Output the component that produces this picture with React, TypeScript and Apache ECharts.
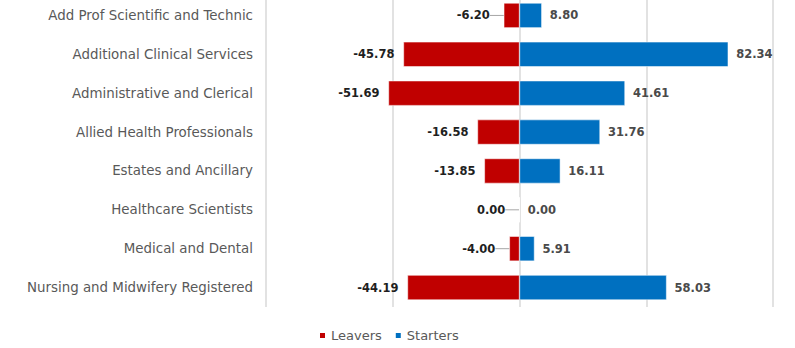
import React, { useEffect, useRef } from "react";
import * as echarts from "echarts";

const categories = [
  "Add Prof Scientific and Technic",
  "Additional Clinical Services",
  "Administrative and Clerical",
  "Allied Health Professionals",
  "Estates and Ancillary",
  "Healthcare Scientists",
  "Medical and Dental",
  "Nursing and Midwifery Registered",
];
const leavers = [-6.2, -45.78, -51.69, -16.58, -13.85, 0.0, -4.0, -44.19];
const starters = [8.8, 82.34, 41.61, 31.76, 16.11, 0.0, 5.91, 58.03];

const FONT = "DejaVu Sans, Verdana, sans-serif";

export default function App() {
  const ref = useRef<HTMLDivElement>(null);
  useEffect(() => {
    if (!ref.current) return;
    const chart = echarts.init(ref.current, undefined, { renderer: "svg" });
    chart.setOption({
      animation: false,
      backgroundColor: "#ffffff",
      textStyle: { fontFamily: FONT },
      grid: { left: 266, right: 22, top: 0, bottom: 41, containLabel: false },
      legend: {
        data: ["Leavers", "Starters"],
        left: 313,
        top: 328,
        icon: "rect",
        itemWidth: 7,
        itemHeight: 7,
        itemGap: 12,
        textStyle: { fontSize: 13, color: "#595959", fontFamily: FONT },
      },
      xAxis: {
        type: "value",
        min: -100,
        max: 100,
        interval: 50,
        axisLabel: { show: false },
        axisLine: { show: false },
        axisTick: { show: false },
        splitLine: { show: true, lineStyle: { color: "#d9d9d9", width: 1.5 } },
      },
      yAxis: {
        type: "category",
        data: categories,
        inverse: true,
        axisLine: { show: false, onZero: false },
        axisTick: { show: false },
        axisLabel: { fontSize: 13.4, color: "#595959", margin: 13, fontFamily: FONT },
      },
      series: [
        {
          name: "Leavers",
          type: "bar",
          stack: "total",
          data: leavers.map((v) => ({
            value: v,
            labelLine: { show: Math.abs(v) < 10 },
          })),
          barWidth: "64%",
          itemStyle: { color: "#C00000", borderColor: "#ffffff", borderWidth: 0.5 },
          label: {
            show: true,
            position: "left",
            distance: 9,
            formatter: (p: any) => Number(p.value).toFixed(2),
            fontSize: 11.5,
            fontWeight: "bold",
            color: "#1f1f1f",
            fontFamily: FONT,
          },
          labelLine: { show: true, lineStyle: { color: "#a6a6a6", width: 1 } },
          labelLayout: (p: any) =>
            Math.abs(leavers[p.dataIndex]) < 10 ? { dx: -5 } : {},
        },
        {
          name: "Starters",
          type: "bar",
          stack: "total",
          data: starters,
          barWidth: "64%",
          itemStyle: { color: "#0070C0", borderColor: "#ffffff", borderWidth: 0.5 },
          label: {
            show: true,
            position: "right",
            distance: 8,
            formatter: (p: any) => Number(p.value).toFixed(2),
            fontSize: 11.5,
            fontWeight: "bold",
            color: "#4a4a4a",
            fontFamily: FONT,
          },
        },
      ],
    });
    return () => chart.dispose();
  }, []);
  return (
    <div style={{ position: "fixed", left: 0, top: 0, width: 795, height: 348, overflow: "hidden", background: "#fff" }}>
      <div
        ref={ref}
        style={{ position: "absolute", left: 0, top: -4, width: 795, height: 352 }}
      />
    </div>
  );
}
